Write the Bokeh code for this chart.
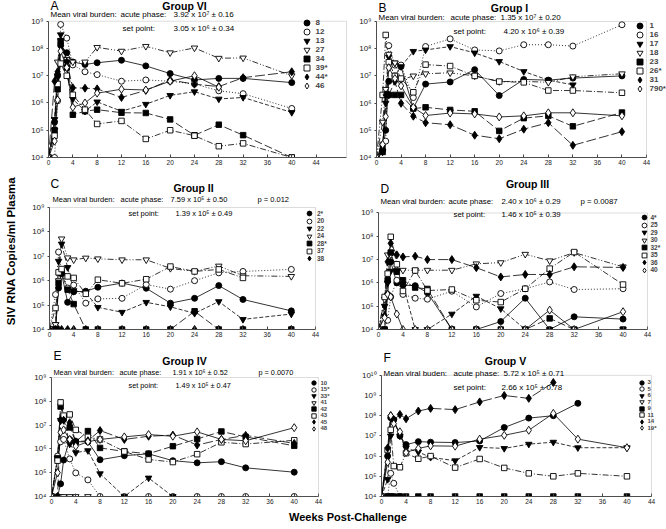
import math
from bokeh.plotting import figure
from bokeh.models import (Range1d, FixedTicker, CustomJSTickFormatter, Label,
                          Legend, LegendItem, Div, BoxAnnotation)
from bokeh.layouts import column, row
from bokeh.embed import file_html
from bokeh.resources import INLINE

NAN = float("nan")
FONT = "Liberation Sans"

# ---------------- data ----------------
WEEKS = [0, 1, 1.5, 2, 3, 4, 6, 8, 12, 16, 20, 24, 28, 32, 40]
X_TICKS = [0, 4, 8, 12, 16, 20, 24, 28, 32, 36, 40, 44]

# Panel A - Group VI
A_IDS = ["8", "12", "13", "27", "34", "39*", "44*", "46"]
A_8 = [1e4, 2e5, 1e7, 1.3e8, 7e7, 3.2e7, 2.6e7, 3e7, 3.7e7, 2.3e7, 1.2e7, 7e6, 8e6, 8e6, 5.6e6]
A_12 = [1e4, 1e4, 1.2e6, 7.6e8, 2.4e8, 2.5e7, 1.4e7, 1.1e7, 6.3e6, 7e6, 6.3e6, 5e6, 2.8e6, 2.2e6, 6.3e5]
A_13 = [1e4, 2.5e5, 1e7, 3.2e8, 3.2e7, 1.4e6, 5e5, 1.1e6, 5e5, 9e5, 1.9e6, 2.6e6, 1.4e6, 1.6e6, 4.5e5]
A_27 = [1e4, 1e5, 3.2e7, 2e8, 4e7, 3.2e7, 3.2e7, 1.1e8, 8e7, 1.2e8, 7e7, 1.05e8, 4.4e7, 4.5e7, 1e7]
A_34 = [1e4, 1e5, 3.2e6, 1.8e8, 2e7, 3.7e5, 5e5, 5.7e5, 4.4e5, 4.3e5, 2.5e5, 6.5e4, 1.6e5, 6.6e4, 1e4]
A_39 = [1e4, 6.3e4, 5e6, 2.8e7, 1e7, 2e6, 5.7e5, 1.7e5, 2.2e5, 4.8e4, 1e5, 6.3e4, 2.6e4, 3.3e4, 1e4]
A_44 = [1e4, 6.3e6, 1.4e7, 1.6e8, 3.2e7, 3.6e6, 3.5e6, 3.3e6, 1.6e6, 2.9e6, 7e6, 4.9e6, 4e6, 8.5e6, 1.4e7]
A_46 = [1e4, 4e4, 1.3e6, 8e7, 2e7, 7e5, 1e6, 2.3e6, 3.2e6, 3e6, 6.3e6, 1e7, 3.8e6, NAN, NAN]

# Panel B - Group I
B_IDS = ["1", "16", "17", "18", "23", "26*", "31", "790*"]
B_1 = [1e4, 2e4, 1e5, 6.3e6, 1e7, 2.2e7, 6.5e5, 5e6, 6e6, 1.7e7, 1.9e6, 7.4e6, 7e6, 8.3e6, 1e7]
B_16 = [1e4, 3e4, 4e4, 1.3e8, 2.5e7, 2.5e7, 1.6e6, 1.2e8, 2.3e8, 9e7, 8.3e7, 1.4e8, 1.4e8, 1.25e8, 7.6e8]
B_17 = [1e4, 1.6e4, 1e6, 5e7, 3e7, 2.2e7, 8e7, 9e7, 1.2e8, 7e7, 3.4e7, 1.45e7, 7e6, 4.7e6, NAN]
B_18 = [1e4, 2e5, 3.2e6, 6.3e7, 3e7, 7e6, 1e7, 1.2e7, 1.3e7, 1e7, 6.2e6, 6.3e6, 5.8e6, 9.3e6, 1.2e7]
B_23 = [1e4, 1.6e4, 2e6, 2e6, 2e6, 2e6, 6.3e5, 7e5, 5.6e5, 5e5, 9.5e4, 2.8e5, 3.4e5, 1.4e5, 4.5e5]
B_26 = [1e4, 2e6, 3.2e8, 3.2e7, 1e7, 8e6, 2.5e6, 2.6e7, 2.3e7, 1e7, 6.2e6, 5.8e6, 2.9e6, 2.9e6, 2.4e6]
B_31 = [1e4, 2.5e4, 2e6, 2e6, 6.3e6, 9.8e5, 3.3e5, 1.9e5, 1.6e5, 6.6e4, 4.9e4, 1.1e5, 1.9e5, 2.8e4, 8.9e4]
B_790 = [1e4, 3e4, 3.2e5, 2e7, 8e6, 4.3e6, 7e5, 3.5e5, 4.3e5, 4e5, 3.1e5, 3.4e5, 4.4e5, 4.4e5, 3.4e5]

# Panel C - Group II
C_IDS = ["2*", "20", "22", "24", "28*", "37", "38"]
C_2 = [1e4, 1e4, 5e5, 2e6, 1.3e5, 3.5e5, 3.7e5, 5.4e5, 8e5, 4.9e5, 1.2e5, 1.9e5, 6.3e5, 1.7e5, 5.8e4]
C_20 = [1e4, 2.7e5, 1.5e7, 2.5e6, 5e5, 6.6e5, 1.2e5, 1.8e5, 1.9e5, 7e5, 4.5e5, 1e6, 2.1e6, 2.4e6, 2.9e6]
C_22 = [1e4, 1.6e4, 6.3e6, 3.2e7, 3.5e6, 3.9e5, 3.2e5, 8.1e4, 5.1e4, 1.3e5, 8.5e4, 4.6e4, 1.4e5, 2.6e4, 4.3e4]
C_24 = [1e4, 1.6e4, 1e6, 5.2e7, 8.7e6, 7.2e6, 8.5e6, 7.9e6, 7.2e6, 7.2e6, 3.2e6, 2.4e6, 4e6, 1.6e6, 1.5e6]
C_28 = [1e4, 1e4, 8e5, 2e6, 4.3e5, 1.1e5, 1e4, 1e4, 1e4, 1e4, 1e4, 5.6e4, 1e4, 1e4, 1e4]
C_37 = [1e4, 7.6e4, 2.2e6, 3e6, 1.5e6, 1.3e6, 2.9e5, 1.1e6, 7.8e5, 1.15e6, 3.8e6, 2.4e6, 2.9e6, 1.3e6, NAN]
C_38 = [1e4, 1e4, 1e4, 1e4, 1e4, 1e4, 1e4, 1e4, 1e4, 1e4, 1e4, 1e4, 1e4, 1e4, 1e4]

# Panel D - Group III
D_IDS = ["4*", "25", "29", "30", "32*", "35", "36", "40"]
D_4 = [1e4, 1e4, 3.2e5, 8e6, 1e6, 8e5, 7.6e5, 3.8e5, 1e4, 1e4, 2.2e4, 2.2e5, 1e4, 3.5e4, 2.8e4]
D_25 = [1e4, 1e4, 2.5e4, 2.5e5, 1.3e6, 3.2e5, 2.2e5, 2e5, 4.4e5, 9.3e4, 3.5e5, 5.6e5, 1.1e6, 5.2e5, 5.6e5]
D_29 = [1e4, 1e5, 1e6, 3.2e6, 3.2e6, 9e5, 1e4, 1e4, 4.6e4, 2.7e5, 7.8e4, 1e4, 1e4, 1e4, 1e4]
D_30 = [1e4, 2e5, 1.6e7, 1.6e7, 3.5e6, 3.5e6, 3.5e6, 3.5e6, 3.5e6, 6.6e6, 7.4e6, 1.7e7, 8.9e6, 2e7, 4.9e6]
D_32 = [1e4, 1e4, 1.3e6, 2e7, 3e6, 1.3e6, 6.3e5, 5.5e5, 1e4, 1e4, 1e4, 1e4, 3e4, 1e4, 1e4]
D_35 = [1e4, 2.5e5, 2.5e6, 9.5e7, 6.3e6, 4.5e5, 3.4e6, 4.7e5, 5.2e5, 1.8e5, 1.5e5, 5.6e5, 4.1e6, 2.1e7, 8.5e5]
D_36 = [1e4, 4e4, 8e6, 5e7, 1.6e7, 1.3e7, 1.4e7, 1e7, 1e7, 4.5e6, 1.8e6, 2.3e6, 2.3e6, 4.9e6, 4.6e6]
D_40 = [1e4, 3.2e4, 3.2e5, 2.5e5, 4.6e4, 1e4, 1e4, 1e4, 1e4, 1e4, 1e4, 1e4, 6.8e4, 1e4, 5.8e4]

# Panel E - Group IV
E_IDS = ["10", "15*", "33*", "41", "42", "43", "45", "48"]
E_10 = [1e4, 1e4, 3.4e4, 3.4e5, 2.5e6, 2e6, 2e6, 3.5e5, 5.2e5, 6.2e5, 3.2e5, 2.6e5, 2.9e5, 1.6e5, 1.05e5]
E_15 = [1e4, 5e5, 2e6, 2.5e6, 3.8e5, 9.8e4, 5e4, 1e4, 1e4, 1e4, 1e4, 1e4, 1e4, 1e4, 1e4]
E_33 = [1e4, 4e5, 1.6e7, 2e7, 1.6e6, 7e5, 8.5e5, 9.1e4, 1e4, 6e4, 1e4, NAN, NAN, NAN, NAN]
E_41 = [1e4, 1e4, 1e4, 1e4, 1e4, 1e4, 1e4, NAN, NAN, NAN, NAN, NAN, NAN, NAN, NAN]
E_42 = [1e4, 4e5, 6e7, 2e7, 8e6, 2e6, 5.6e6, 1.1e6, 7.8e5, 6.3e5, 1.3e6, 2.6e6, 5.4e6, 3.2e6, 1.35e6]
E_43 = [1e4, 3.2e5, 9e7, 2.5e7, 2.8e7, 6.3e6, 3.2e6, 2.5e6, 7.8e5, 3.6e5, 2.8e5, 6e5, 1.9e6, 1.6e6, 2.3e6]
E_45 = [1e4, 1e4, 1.6e7, 1.6e7, 1.26e7, 2e6, 2.2e6, 5.9e6, 2.5e6, 3.4e6, 3.8e6, 1.45e6, 2.5e6, 3.7e6, 1.7e6]
E_48 = [1e4, 1e5, 5e6, 6.3e6, 2.5e6, 1.3e6, 2e6, 2.5e6, 3.2e6, 4e6, 3.4e6, 5.2e6, 2.5e6, 2.2e6, 7.8e6]

# Panel F - Group V
F_IDS = ["3", "5", "6", "7", "9", "11", "14", "19*"]
F_3 = [1e4, 1e6, 8e7, 6.3e7, 1e7, 3.7e6, 5.2e6, 4.9e6, 4.7e6, 5.6e6, 2.6e7, 7.6e7, 1e8, 4.1e8, NAN]
F_5 = [1e4, 1e4, 1.4e5, 4.5e4, 1e4, NAN, NAN, NAN, NAN, NAN, NAN, NAN, NAN, NAN, NAN]
F_6 = [1e4, 7e4, 1e7, 6.3e7, 1e7, 2.5e6, 1.6e6, 8.7e5, 5.9e5, 2.7e6, 2.4e6, 3.9e6, 4.9e6, 2.6e6, 2.6e6]
F_7 = [1e4, 1e4, 1e4, 1e4, NAN, NAN, NAN, NAN, NAN, NAN, NAN, NAN, NAN, NAN, NAN]
F_9 = [1e4, 1e4, 1e4, 1e4, 1e4, 1e4, 1e4, 1e4, 1e4, 1e4, 1e4, 1e4, 1e4, 1e4, 1e4]
F_11 = [1e4, 2e6, 2e7, 3.2e5, 2.8e5, 1.4e6, 7.4e5, 1e6, 2.7e5, 7.2e5, 2.6e5, 1.4e5, 1e5, 1.4e5, 1e5]
F_14 = [1e4, 2.5e6, 1e8, 6.3e7, 1.15e8, 7e7, 1.7e8, 2.3e8, 2e8, 4.8e8, 1e9, 7.2e8, 4.4e9, NAN, NAN]
F_19 = [1e4, 5e5, 1e8, 4e7, 1.6e7, 1.5e6, 2.4e6, 3.2e6, 3.1e6, 6.9e6, 1.07e7, 1.9e7, 1.3e8, 6.9e6, 2.6e6]

# ---------------- styles ----------------
# (marker, filled, dash, size)
STYLES = [
    ("circle", True, "solid", 6),
    ("circle", False, "1 2", 6),
    ("inverted_triangle", True, "4 2", 6.5),
    ("inverted_triangle", False, "6 2 1 2 1 2", 6.5),
    ("square", True, "8 3", 5.5),
    ("square", False, "6 2 1 2", 5.5),
    ("diamond", True, "10 3", 8),
    ("diamond", False, "solid", 8),
]

SUP = {"0": "\u2070", "1": "\u00b9", "2": "\u00b2", "3": "\u00b3", "4": "\u2074",
       "5": "\u2075", "6": "\u2076", "7": "\u2077", "8": "\u2078", "9": "\u2079"}

Y_FMT = CustomJSTickFormatter(code="""
const s = {"0":"\u2070","1":"\u00b9","2":"\u00b2","3":"\u00b3","4":"\u2074",
           "5":"\u2075","6":"\u2076","7":"\u2077","8":"\u2078","9":"\u2079"};
const e = String(Math.round(Math.log10(tick)));
return "10" + e.split("").map(c => s[c]).join("");
""")


def sup(n):
    return "".join(SUP[c] for c in str(n))


def make_panel(geom, ids, series, texts, leg, ylabel=None):
    # figure rect (page px), plot-box rect (page px), box extent in data units
    (fx, fy, W, H, L, R, T, B, xbox, ytop) = geom
    bl = L - fx
    bb = fy + H - B
    frame_right = fx + W
    frame_top = fy
    x_end = xbox * (frame_right - L) / (R - L)
    dec = math.log10(ytop) - 4
    ppd = (B - T) / dec
    y_end = 10 ** (math.log10(ytop) + (T - frame_top) / ppd)

    p = figure(width=W, height=H, x_range=Range1d(0, x_end),
               y_range=Range1d(1e4, y_end), y_axis_type="log",
               output_backend="svg", toolbar_location=None, title=None,
               min_border_left=bl, min_border_right=0,
               min_border_top=0, min_border_bottom=bb)
    p.xgrid.visible = False
    p.ygrid.visible = False
    p.outline_line_color = None
    p.background_fill_color = "white"
    p.border_fill_color = "white"

    p.add_layout(BoxAnnotation(left=0, right=xbox, bottom=1e4, top=ytop,
                               fill_alpha=0, line_color="#8a8a8a", line_width=1))

    p.xaxis.ticker = FixedTicker(ticks=X_TICKS)
    p.xaxis.bounds = (0, xbox)
    p.xaxis.major_tick_in = 3
    p.xaxis.major_tick_out = 0
    p.xaxis.major_label_standoff = 2
    p.xaxis.major_label_text_font_size = "6.5px"
    p.yaxis.ticker = FixedTicker(ticks=[10.0 ** k for k in range(4, int(round(math.log10(ytop))) + 1)])
    p.yaxis.bounds = (1e4, ytop)
    p.yaxis.formatter = Y_FMT
    p.yaxis.major_tick_in = 0
    p.yaxis.major_tick_out = 2
    p.yaxis.major_label_standoff = 3
    p.yaxis.major_label_text_font_size = "8px"
    for ax in (p.xaxis, p.yaxis):
        ax.minor_tick_line_color = None
        ax.axis_line_color = "#444444"
        ax.major_tick_line_color = "#444444"
        ax.major_label_text_font = FONT
        ax.major_label_text_color = "#222222"
    if ylabel:
        p.yaxis.axis_label = ylabel
        p.yaxis.axis_label_text_font = FONT
        p.yaxis.axis_label_text_font_size = "11.5px"
        p.yaxis.axis_label_text_font_style = "bold"
        p.yaxis.axis_label_standoff = 12
        p.yaxis.axis_label_text_color = "black"

    items = []
    for i, (name, vals) in enumerate(zip(ids, series)):
        marker, filled, dash, size = STYLES[i]
        p.line(WEEKS, vals, line_color="black", line_width=0.8, line_dash=dash)
    for i, (name, vals) in enumerate(zip(ids, series)):
        marker, filled, dash, size = STYLES[i]
        r = p.scatter(WEEKS, vals, marker=marker, size=size, line_color="black",
                      line_width=0.9, fill_color="black" if filled else "white")
        items.append(LegendItem(label=name, renderers=[r]))

    # legend split into two interleaved columns of entries so that the
    # entries can sit closer together than the glyph box
    (mx, my, g, sp, st, fs) = leg
    pitch = (g + sp) / 2.0
    for k in (0, 1):
        its = items[k::2]
        m = len(its)
        h = m * g + (m - 1) * sp
        top = my + k * pitch - g / 2.0
        left = mx - g / 2.0
        legend = Legend(items=its, location=(left - L, B - (top + h)), orientation="vertical",
                        padding=0, margin=0, spacing=sp, glyph_width=g, glyph_height=g,
                        label_height=g, label_width=8, label_standoff=st,
                        label_text_font=FONT, label_text_font_style="bold",
                        label_text_font_size=fs, background_fill_alpha=0,
                        border_line_alpha=0)
        p.add_layout(legend)

    for (t, px, py, size, style, align) in texts:
        p.add_layout(Label(x=px - L, y=B - py, x_units="screen", y_units="screen",
                           text=t, text_font=FONT, text_font_size=size,
                           text_font_style=style, text_align=align,
                           text_baseline="middle", text_color="black"))
    return p


def info_texts(letter, group, gx, gy, lx, ly, mean_text, mean_x, acute_x, acute_val, acute_val_x,
               p_text, p_x, set_x, set_val, set_val_x, my, sy, fs):
    t = [
        (letter, lx, ly, "12px", "normal", "left"),
        (group, gx, gy, "10.5px", "bold", "center"),
        (mean_text, mean_x, my, fs, "normal", "left"),
        ("acute phase:", acute_x, my, fs, "normal", "left"),
        (acute_val, acute_val_x, my, fs, "normal", "left"),
        ("set point:", set_x, sy, fs, "normal", "left"),
        (set_val, set_val_x, sy, fs, "normal", "left"),
    ]
    if p_text:
        t.append((p_text, p_x, my, fs, "normal", "left"))
    return t


# geometry: figure x, y, width, height; plot box left, right, top, bottom (page px);
# box right edge in weeks; box top in copies/ml
GEOM_A = (0, 0, 348, 172, 48, 346, 21, 159, 49, 1e9)
GEOM_B = (348, 0, 318, 172, 376, 646, 21, 157, 44, 1e9)
GEOM_C = (0, 172, 348, 170, 49, 315, 207, 329, 44, 1e9)
GEOM_D = (348, 172, 318, 170, 378, 647, 213, 331, 44, 1e9)
GEOM_E = (0, 342, 348, 166, 51, 318, 377, 496, 44, 1e9)
GEOM_F = (348, 342, 318, 166, 381, 651, 375, 497, 44, 1e10)

MVB = "Mean viral burden:"
TX_A = info_texts("A", "Group VI", 184, 7, 50, 7, MVB, 50, 120, "3.92 x 10" + sup(7) + " \u00b1 0.16", 173,
                  None, 0, 122, "3.05 x 10" + sup(6) + " \u00b1 0.34", 173, 16, 30, "8px")
TX_B = info_texts("B", "Group I", 509, 7, 378, 7, MVB, 378, 450, "1.35 x 10" + sup(7) + " \u00b1 0.20", 500,
                  None, 0, 453, "4.20 x 10" + sup(6) + " \u00b1 0.39", 503, 17, 31, "8px")
TX_C = info_texts("C", "Group II", 193, 187, 50, 183, MVB, 52, 120, "7.59 x 10" + sup(5) + " \u00b1 0.50", 170,
                  "p = 0.012", 257, 128, "1.39 x 10" + sup(5) + " \u00b1 0.49", 175, 199, 213, "7.5px")
TX_D = info_texts("D", "Group III", 527, 185, 380, 190, MVB, 380, 448, "2.40 x 10" + sup(6) + " \u00b1 0.29", 501,
                  "p = 0.0087", 580, 453, "1.46 x 10" + sup(5) + " \u00b1 0.39", 501, 203, 216, "7.8px")
TX_E = info_texts("E", "Group IV", 184, 360, 53, 355, MVB, 53, 119, "1.91 x 10" + sup(6) + " \u00b1 0.52", 172,
                  "p = 0.0070", 258, 128, "1.49 x 10" + sup(5) + " \u00b1 0.47", 175, 372, 385, "7.3px")
TX_F = info_texts("F", "Group V", 505, 361, 383, 358, "Mean viral buden:", 383, 453,
                  "5.72 x 10" + sup(5) + " \u00b1 0.71", 503,
                  None, 0, 453, "2.66 x 10" + sup(5) + " \u00b1 0.78", 501, 374, 388, "8px")

# legend: first marker centre x, first entry centre y (page px), glyph box,
# spacing inside each column, label standoff, font size
LEG_A = (306, 24.3, 15, 3, 2, "8px")
LEG_B = (639, 25, 15, 3, 3, "8px")
LEG_C = (309, 213.3, 12, 3, 2, "6.5px")
LEG_D = (643.5, 219.3, 12, 3, 1, "6.5px")
LEG_E = (313, 382.7, 11, 2, 2, "6px")
LEG_F = (641, 383.3, 11, 2, 1, "6px")

pA = make_panel(GEOM_A, A_IDS, [A_8, A_12, A_13, A_27, A_34, A_39, A_44, A_46], TX_A, LEG_A)
pB = make_panel(GEOM_B, B_IDS, [B_1, B_16, B_17, B_18, B_23, B_26, B_31, B_790], TX_B, LEG_B)
pC = make_panel(GEOM_C, C_IDS, [C_2, C_20, C_22, C_24, C_28, C_37, C_38], TX_C, LEG_C,
                ylabel="SIV RNA Copies/ml Plasma")
pD = make_panel(GEOM_D, D_IDS, [D_4, D_25, D_29, D_30, D_32, D_35, D_36, D_40], TX_D, LEG_D)
pE = make_panel(GEOM_E, E_IDS, [E_10, E_15, E_33, E_41, E_42, E_43, E_45, E_48], TX_E, LEG_E)
pF = make_panel(GEOM_F, F_IDS, [F_3, F_5, F_6, F_7, F_9, F_11, F_14, F_19], TX_F, LEG_F)

xlabel = Div(text="<div style=\"position:relative;top:-4px;margin-left:284px;font-family:'Liberation Sans';"
                  "font-weight:bold;font-size:11px;line-height:11px;color:black;white-space:nowrap;\">"
                  "Weeks Post-Challenge</div>",
             width=666, height=17)

layout = column(row(pA, pB), row(pC, pD), row(pE, pF), xlabel)

with open("out.html", "w") as f:
    f.write(file_html(layout, INLINE))
